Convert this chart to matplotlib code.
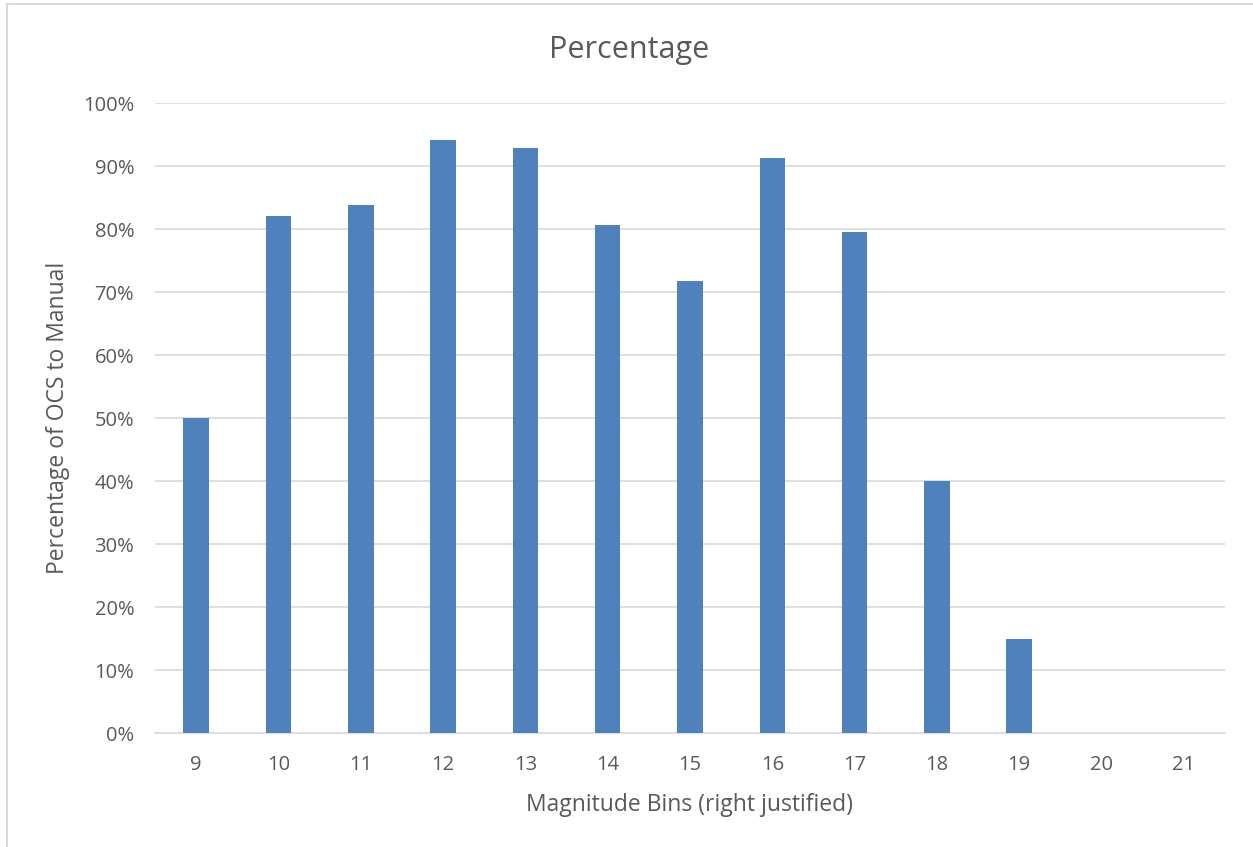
import matplotlib.pyplot as plt
from matplotlib.patches import Rectangle
from matplotlib.ticker import PercentFormatter

bins = ["9", "10", "11", "12", "13", "14", "15", "16", "17", "18", "19", "20", "21"]
percentages = [50.0, 82.0, 83.8, 94.1, 92.9, 80.6, 71.7, 91.3, 79.5, 40.0, 15.0, 0.0, 0.0]

TEXT = "#595959"
BAR = "#4F81BD"
GRID = "#D9D9D9"

plt.rcParams["font.family"] = ["Open Sans", "DejaVu Sans"]

fig = plt.figure(figsize=(12.53, 8.47), dpi=100)
ax = fig.add_axes([155 / 1253, 1 - 733 / 847, 1070 / 1253, 630 / 847])

x = range(len(bins))
ax.bar(x, percentages, width=0.31, color=BAR, zorder=3)

ax.set_xlim(-0.5, len(bins) - 0.5)
ax.set_ylim(0, 100)
ax.set_yticks(range(0, 101, 10))
ax.yaxis.set_major_formatter(PercentFormatter(decimals=0))
ax.set_xticks(list(x))
ax.set_xticklabels(bins)
ax.grid(axis="y", color=GRID, linewidth=1.2, zorder=0)
ax.tick_params(axis="both", length=0, labelsize=14.5, colors=TEXT)
ax.tick_params(axis="y", pad=15)
ax.tick_params(axis="x", pad=16)
for side in ["top", "right", "left"]:
    ax.spines[side].set_visible(False)
ax.spines["bottom"].set_color(GRID)
ax.spines["bottom"].set_linewidth(1.2)

fig.text(629 / 1253, 1 - 50 / 847, "Percentage", fontsize=22, color=TEXT,
         ha="center", va="center")
ax.set_xlabel("Magnitude Bins (right justified)", fontsize=16.5, color=TEXT, labelpad=13)
ax.set_ylabel("Percentage of OCS to Manual", fontsize=16.5, color=TEXT, labelpad=9)

# light chart-area border as in the spreadsheet export
fig.patches.append(Rectangle((6.5 / 1253, -0.01), 1.1, 1 - 4.5 / 847 + 0.01,
                             transform=fig.transFigure, fill=False,
                             edgecolor=GRID, linewidth=1.5))

fig.savefig("out.png", dpi=100)
